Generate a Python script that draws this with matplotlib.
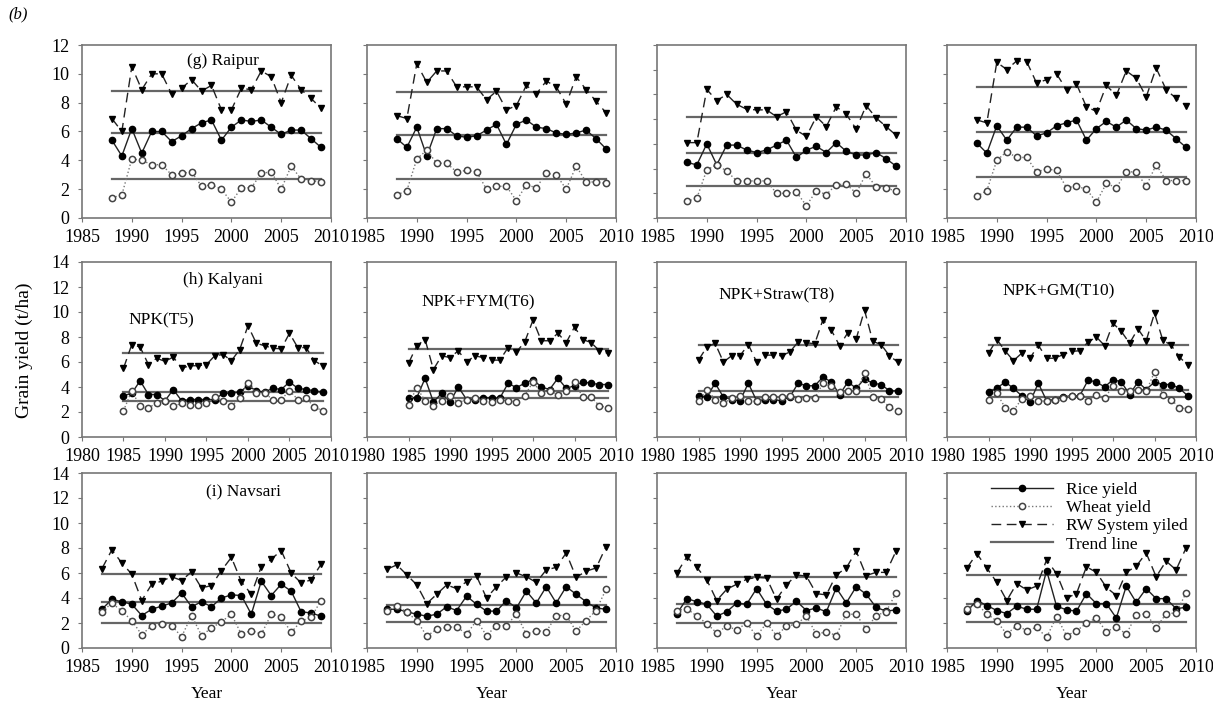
import numpy as np
import matplotlib.pyplot as plt

plt.rcParams['font.family'] = 'Liberation Serif'
plt.rcParams['font.size'] = 12

# years of each site
years_raipur = list(range(1988, 2010))
years_kalyani = list(range(1985, 2010))
years_navsari = list(range(1987, 2010))

# (g) Raipur, four treatments per list
rice_raipur = [
    [5.4, 4.3, 6.2, 4.5, 6.0, 6.0, 5.3, 5.7, 6.2, 6.6, 6.8, 5.4, 6.3, 6.8, 6.7, 6.8, 6.3, 5.8, 6.1, 6.1, 5.5, 4.9],
    [5.5, 4.9, 6.3, 4.3, 6.2, 6.2, 5.7, 5.6, 5.7, 6.1, 6.5, 5.1, 6.5, 6.8, 6.3, 6.2, 5.9, 5.8, 5.9, 6.1, 5.5, 4.8],
    [4.5, 4.3, 6.0, 4.3, 5.9, 5.9, 5.5, 5.3, 5.5, 5.9, 6.3, 4.9, 5.5, 5.8, 5.3, 6.1, 5.4, 5.1, 5.1, 5.3, 4.8, 4.2],
    [5.2, 4.5, 6.4, 5.4, 6.3, 6.3, 5.7, 5.9, 6.4, 6.6, 6.8, 5.4, 6.2, 6.7, 6.3, 6.8, 6.2, 6.1, 6.3, 6.1, 5.5, 4.9]]
wheat_raipur = [
    [1.4, 1.6, 4.1, 4.0, 3.7, 3.7, 3.0, 3.1, 3.2, 2.2, 2.3, 2.0, 1.1, 2.1, 2.1, 3.1, 3.2, 2.0, 3.6, 2.7, 2.6, 2.5],
    [1.6, 1.9, 4.1, 4.7, 3.8, 3.8, 3.2, 3.3, 3.2, 2.0, 2.2, 2.2, 1.2, 2.3, 2.1, 3.1, 3.0, 2.0, 3.6, 2.5, 2.5, 2.4],
    [1.35, 1.6, 3.9, 4.3, 3.8, 3.0, 3.0, 3.0, 3.0, 2.0, 2.0, 2.1, 1.0, 2.2, 1.9, 2.7, 2.75, 2.0, 3.6, 2.5, 2.4, 2.2],
    [1.5, 1.9, 4.0, 4.6, 4.2, 4.2, 3.2, 3.4, 3.3, 2.1, 2.2, 2.0, 1.1, 2.4, 2.1, 3.2, 3.2, 2.2, 3.7, 2.6, 2.6, 2.6]]
rw_raipur = [
    [6.9, 6.0, 10.5, 8.9, 10.0, 10.0, 8.6, 9.0, 9.6, 8.8, 9.2, 7.5, 7.5, 9.0, 8.9, 10.2, 9.8, 8.0, 9.9, 8.9, 8.3, 7.6],
    [7.1, 6.9, 10.7, 9.4, 10.2, 10.2, 9.1, 9.1, 9.1, 8.2, 8.8, 7.5, 7.8, 9.2, 8.6, 9.5, 9.1, 7.9, 9.8, 8.9, 8.1, 7.3],
    [6.1, 6.1, 10.4, 9.5, 10.0, 9.2, 8.8, 8.75, 8.75, 8.2, 8.6, 7.1, 6.6, 8.2, 7.4, 9.0, 8.4, 7.2, 9.1, 8.1, 7.4, 6.7],
    [6.8, 6.6, 10.8, 10.3, 10.9, 10.85, 9.35, 9.6, 10.0, 8.9, 9.3, 7.7, 7.4, 9.2, 8.5, 10.2, 9.7, 8.4, 10.4, 8.9, 8.3, 7.8]]
trend_rice_raipur = [5.87, 5.77, 5.30, 5.94]
trend_wheat_raipur = [2.68, 2.73, 2.56, 2.82]
trend_rw_raipur = [8.78, 8.73, 8.16, 9.08]
ymax_raipur = [12, 12, 14, 12]

# (h) Kalyani
rice_kalyani = [
    [3.3, 3.5, 4.5, 3.4, 3.4, 2.9, 3.8, 2.9, 3.0, 3.0, 3.0, 3.0, 3.5, 3.5, 3.6, 4.1, 3.7, 3.6, 3.9, 3.8, 4.4, 3.9, 3.8, 3.7, 3.6],
    [3.15, 3.15, 4.7, 2.8, 3.5, 2.8, 4.0, 3.0, 3.0, 3.15, 3.15, 3.1, 4.3, 3.95, 4.3, 4.6, 4.0, 3.8, 4.7, 3.9, 4.1, 4.4, 4.3, 4.2, 4.2],
    [3.3, 3.2, 4.3, 3.2, 3.0, 2.9, 4.3, 2.9, 3.0, 3.0, 2.9, 3.2, 4.3, 4.1, 4.1, 4.8, 4.4, 3.4, 4.4, 3.9, 4.65, 4.3, 4.2, 3.7, 3.7],
    [3.6, 3.9, 4.4, 3.9, 3.3, 2.8, 4.3, 2.9, 3.0, 3.2, 3.3, 3.3, 4.55, 4.4, 4.0, 4.6, 4.4, 3.4, 4.4, 3.8, 4.4, 4.2, 4.2, 3.9, 3.3]]
wheat_kalyani = [
    [2.1, 3.7, 2.45, 2.3, 2.75, 2.9, 2.45, 2.7, 2.6, 2.6, 2.7, 3.2, 2.9, 2.45, 3.1, 4.3, 3.5, 3.5, 3.0, 3.0, 3.7, 3.0, 3.1, 2.4, 2.1],
    [2.6, 3.95, 2.9, 2.5, 2.9, 3.3, 2.75, 3.0, 3.15, 2.9, 2.8, 2.95, 2.9, 2.8, 3.3, 4.4, 3.5, 3.7, 3.4, 3.7, 4.4, 3.2, 3.2, 2.5, 2.35],
    [2.85, 3.8, 3.0, 2.7, 3.1, 3.3, 2.9, 2.85, 3.2, 3.2, 3.2, 3.3, 3.05, 3.1, 3.1, 4.3, 4.05, 3.6, 3.65, 3.65, 5.1, 3.2, 3.05, 2.4, 2.05],
    [2.95, 3.5, 2.35, 2.1, 3.05, 3.3, 2.85, 2.9, 3.0, 3.15, 3.3, 3.3, 2.85, 3.35, 3.1, 4.1, 3.7, 3.7, 3.8, 3.65, 5.2, 3.35, 3.0, 2.35, 2.25]]
rw_kalyani = [
    [5.5, 7.4, 7.2, 5.8, 6.3, 6.05, 6.4, 5.5, 5.7, 5.7, 5.8, 6.5, 6.6, 6.1, 7.0, 8.9, 7.5, 7.3, 7.1, 7.05, 8.3, 7.15, 7.15, 6.1, 5.7],
    [5.9, 7.3, 7.8, 5.4, 6.5, 6.35, 6.9, 6.0, 6.5, 6.35, 6.15, 6.15, 7.15, 6.8, 7.6, 9.35, 7.7, 7.7, 8.3, 7.55, 8.8, 7.8, 7.55, 6.9, 6.7],
    [6.15, 7.2, 7.5, 6.0, 6.5, 6.5, 7.4, 6.0, 6.55, 6.55, 6.5, 6.8, 7.6, 7.55, 7.45, 9.4, 8.55, 7.3, 8.35, 7.85, 10.15, 7.65, 7.4, 6.5, 6.0],
    [6.7, 7.8, 6.9, 6.1, 6.7, 6.3, 7.35, 6.3, 6.3, 6.6, 6.85, 6.9, 7.6, 8.0, 7.3, 9.1, 8.45, 7.5, 8.65, 7.7, 9.9, 7.75, 7.35, 6.4, 5.75]]
trend_rice_kalyani = [3.60, 3.68, 3.72, 3.74]
trend_wheat_kalyani = [2.88, 3.15, 3.21, 3.24]
trend_rw_kalyani = [6.72, 7.07, 7.33, 7.35]
ymax_kalyani = [14, 14, 14, 14]

# (i) Navsari
rice_navsari = [
    [3.1, 3.9, 3.7, 3.5, 2.6, 3.1, 3.35, 3.6, 4.4, 3.3, 3.7, 3.3, 4.0, 4.25, 4.2, 2.7, 5.35, 4.2, 5.1, 4.55, 2.9, 2.8, 2.55],
    [3.1, 3.1, 2.9, 2.7, 2.55, 2.7, 3.3, 3.0, 4.15, 3.5, 2.95, 2.95, 3.8, 3.2, 4.55, 3.6, 4.9, 3.6, 4.9, 4.3, 3.7, 3.2, 3.1],
    [2.75, 3.95, 3.7, 3.5, 2.55, 2.9, 3.6, 3.5, 4.75, 3.5, 2.95, 3.1, 3.75, 3.0, 3.2, 2.9, 4.8, 3.6, 4.9, 4.3, 3.25, 2.95, 3.05],
    [2.95, 3.8, 3.4, 3.0, 2.75, 3.35, 3.1, 3.1, 6.2, 3.35, 3.05, 2.95, 4.35, 3.55, 3.55, 2.4, 4.95, 3.65, 4.75, 3.95, 3.95, 3.15, 3.25]]
wheat_navsari = [
    [2.9, 3.6, 2.95, 2.2, 1.05, 1.8, 1.9, 1.8, 0.9, 2.6, 1.0, 1.6, 2.1, 2.7, 1.1, 1.4, 1.1, 2.7, 2.5, 1.25, 2.15, 2.45, 3.8],
    [3.0, 3.4, 2.85, 2.2, 0.95, 1.5, 1.65, 1.7, 1.1, 2.2, 1.0, 1.8, 1.8, 2.7, 1.1, 1.4, 1.3, 2.6, 2.6, 1.35, 2.2, 3.0, 4.7],
    [3.0, 3.15, 2.55, 1.95, 1.2, 1.75, 1.45, 2.0, 0.95, 2.0, 1.0, 1.75, 1.9, 2.55, 1.1, 1.3, 1.0, 2.7, 2.7, 1.5, 2.6, 2.9, 4.4],
    [3.1, 3.5, 2.75, 2.15, 1.1, 1.8, 1.4, 1.65, 0.85, 2.5, 1.0, 1.35, 2.0, 2.4, 1.3, 1.7, 1.1, 2.65, 2.75, 1.6, 2.75, 2.8, 4.4]]
rw_navsari = [
    [6.35, 7.85, 6.8, 5.9, 3.8, 5.1, 5.35, 5.7, 5.4, 6.1, 4.8, 5.0, 6.2, 7.25, 5.3, 4.3, 6.5, 7.1, 7.8, 6.0, 5.2, 5.45, 6.7],
    [6.3, 6.65, 5.85, 5.05, 3.55, 4.3, 5.05, 4.75, 5.3, 5.75, 4.0, 4.9, 5.7, 6.0, 5.7, 5.25, 6.25, 6.45, 7.6, 5.65, 6.15, 6.4, 8.1],
    [6.0, 7.3, 6.45, 5.45, 3.8, 4.7, 5.1, 5.5, 5.65, 5.6, 3.9, 5.05, 5.85, 5.75, 4.35, 4.25, 5.85, 6.4, 7.75, 5.8, 6.05, 6.05, 7.75],
    [6.4, 7.55, 6.4, 5.25, 3.8, 5.15, 4.65, 4.95, 7.05, 5.95, 4.0, 4.35, 6.5, 6.05, 4.85, 4.2, 6.05, 6.55, 7.6, 5.7, 6.95, 6.25, 8.0]]
trend_rice_navsari = [3.65, 3.43, 3.49, 3.56]
trend_wheat_navsari = [2.01, 2.12, 2.04, 2.06]
trend_rw_navsari = [5.90, 5.68, 5.71, 5.83]
ymax_navsari = [14, 14, 14, 14]

treatments = ['NPK(T5)', 'NPK+FYM(T6)', 'NPK+Straw(T8)', 'NPK+GM(T10)']
site_titles = ['(g) Raipur', '(h) Kalyani', '(i) Navsari']
xlims = [(1985, 2010), (1980, 2010), (1985, 2010)]

rows = [
    (years_raipur, rice_raipur, wheat_raipur, rw_raipur, trend_rice_raipur, trend_wheat_raipur, trend_rw_raipur, ymax_raipur),
    (years_kalyani, rice_kalyani, wheat_kalyani, rw_kalyani, trend_rice_kalyani, trend_wheat_kalyani, trend_rw_kalyani, ymax_kalyani),
    (years_navsari, rice_navsari, wheat_navsari, rw_navsari, trend_rice_navsari, trend_wheat_navsari, trend_rw_navsari, ymax_navsari),
]

# posiciones en pixeles del original
W, H = 1213, 704
lefts = [82, 367, 657, 947]
tops = [45, 262, 473]
bottoms = [218, 437, 648]
ancho = 249

fig = plt.figure(figsize=(W / 100, H / 100), dpi=100)

for r in range(3):
    years, rice, wheat, rw, tr, tw, tsys, ymax = rows[r]
    for c in range(4):
        ax = fig.add_axes([lefts[c] / W, 1 - bottoms[r] / H, ancho / W, (bottoms[r] - tops[r]) / H])

        # lineas de tendencia
        ax.plot([years[0], years[-1]], [tsys[c], tsys[c]], color='#666666', lw=1.6, zorder=1, label='Trend line')
        ax.plot([years[0], years[-1]], [tr[c], tr[c]], color='#666666', lw=1.6, zorder=1)
        ax.plot([years[0], years[-1]], [tw[c], tw[c]], color='#666666', lw=1.6, zorder=1)

        l_rw, = ax.plot(years, rw[c], color='#222222', lw=1.0, linestyle=(0, (7, 4)),
                        marker='v', ms=5, mfc='black', mec='black', zorder=3, label='RW System yiled')
        l_rice, = ax.plot(years, rice[c], color='#222222', lw=1.0, marker='o', ms=4.5,
                          mfc='black', mec='black', zorder=3, label='Rice yield')
        l_wheat, = ax.plot(years, wheat[c], color='#777777', lw=1.0, linestyle=':', marker='o', ms=4.5,
                           mfc='white', mec='#444444', mew=1.1, zorder=4, label='Wheat yield')

        ax.set_xlim(*xlims[r])
        ax.set_xticks(np.arange(xlims[r][0], xlims[r][1] + 1, 5))
        ax.set_ylim(0, ymax[c])
        ax.set_yticks(np.arange(0, ymax[c] + 1, 2))
        if c != 0:
            ax.set_yticklabels([])

        for s in ax.spines.values():
            s.set_color('#777777')
            s.set_linewidth(1.2)
        ax.tick_params(direction='out', length=3, color='#777777', labelsize=13)
        ax.tick_params(axis='x', pad=5)
        ax.tick_params(axis='y', pad=6)

        if c == 0:
            ax.text(0.565 if r < 2 else 0.647, 0.91 if r == 0 else (0.897 if r == 1 else 0.89),
                    site_titles[r], transform=ax.transAxes, ha='center', va='center', fontsize=12.5)
        if r == 1:
            pos = [(0.32, 0.669), (0.446, 0.77), (0.482, 0.81), (0.45, 0.834)][c]
            ax.text(pos[0], pos[1], treatments[c], transform=ax.transAxes,
                    ha='center', va='center', fontsize=12.5)
        if r == 2:
            ax.set_xlabel('Year', fontsize=12.5, labelpad=7)
            if c == 3:
                trend_handle = ax.get_lines()[0]
                ax.legend([l_rice, l_wheat, l_rw, trend_handle],
                          ['Rice yield', 'Wheat yield', 'RW System yiled', 'Trend line'],
                          loc='upper right', frameon=False, fontsize=12.5, handlelength=3.6,
                          handletextpad=0.7, labelspacing=0.12, borderaxespad=0.1,
                          bbox_to_anchor=(1.0, 1.0))

fig.text(24 / W, 1 - 350 / H, 'Grain yield (t/ha)', rotation=90, ha='center', va='center', fontsize=14)
fig.text(8 / W, 1 - 14 / H, '(b)', ha='left', va='center', fontsize=12, style='italic')

fig.savefig('out.png', dpi=100)
